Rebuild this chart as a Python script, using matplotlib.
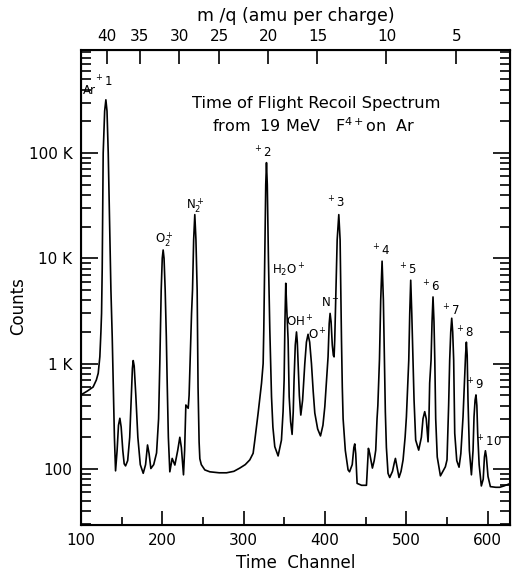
import matplotlib
matplotlib.use("Agg")
import matplotlib.pyplot as plt
from matplotlib.ticker import FixedLocator, LogLocator, NullFormatter, FixedFormatter

# ---- data ----
channel = [100, 108, 115, 119, 121.3, 123.3, 124.6, 125.4, 126.2, 127.4, 129.2, 130.7, 132.1, 133.6,
           135.4, 136.9, 138.5, 139.7, 141.2, 142.6, 144.5, 146.2, 147.9, 149.5, 151.5, 153.2, 154.9,
           157.5, 160, 162, 163.3, 164.3, 165.5, 167.5, 170, 173, 176.6, 179.5, 181.9, 183.8, 186,
           189.5, 193, 195.5, 197, 198.7, 200, 201.1, 202.2, 203.6, 205, 206, 207.5, 209.3, 212.2,
           215.5, 219, 221.6, 223.5, 226.1, 227.5, 229, 231.9, 233, 234.5, 236, 237.2, 238.6, 240,
           241.4, 242.9, 244, 245.3, 246.2, 248, 252.3, 258.5, 270, 279, 288, 295.3, 302, 307.6,
           311.7, 313.8, 316, 317.8, 320, 322, 324, 324.8, 326, 327.2, 328.1, 329.1, 330.5, 332.2,
           334.3, 336, 338.3, 342.4, 346.5, 348.5, 349.8, 350.8, 351.8, 352.9, 354.7, 356, 357.8,
           359.6, 361, 362, 363.5, 365, 366, 367, 368.5, 370.3, 372.5, 375.2, 377.2, 379.2, 381.2,
           383.4, 385.5, 387.5, 391, 394.5, 397.5, 399.8, 402, 403.8, 405.2, 406.3, 407.5, 409,
           410.3, 411.2, 412, 413.5, 415, 417, 418.6, 420.3, 421.3, 422.3, 425, 428.4, 430.2, 433.5,
           435.5, 436.6, 437.8, 439.5, 445, 451, 452.3, 453.4, 455, 458.3, 460.5, 462.4, 464, 465,
           467, 468.5, 470.2, 471.8, 473.1, 474.2, 475.5, 477.5, 479.6, 483, 485.3, 486.6, 488, 491,
           493.5, 496, 498.5, 500.1, 502, 503, 504.2, 505.4, 506.7, 508.2, 509.5, 511.5, 515.2,
           518.5, 520.5, 522.6, 524.5, 526.7, 527.8, 528.7, 530.4, 531.6, 532.8, 534, 535, 536.1,
           538, 541.9, 545, 548, 550, 552, 553.3, 554.6, 555.8, 557, 558.2, 559.5, 562, 564.8, 567,
           569.7, 571.5, 572.8, 573.8, 574.8, 575.8, 577.5, 580, 582, 583.2, 584.5, 585.6, 586.7,
           587.7, 589.5, 592.2, 594.5, 596, 597.2, 598.4, 600.4, 603.3, 610, 614.7, 620, 628]
counts = [505, 550, 600, 700, 811, 1165, 2000, 3000, 8000, 100000, 250000, 320000, 250000, 100000,
          20000, 5000, 1800, 700, 200, 96, 150, 260, 303, 250, 150, 112, 107,
          120, 200, 500, 900, 1070, 950, 500, 200, 110, 91, 110, 169, 140, 101,
          110, 142, 300, 1000, 5000, 10000, 12000, 10000, 5000, 1800, 700, 200, 94, 126,
          109, 150, 200, 160, 88, 150, 405, 377, 500, 1200, 3000, 5000, 15000, 26000,
          15000, 5000, 600, 180, 125, 110, 98, 94, 92, 92, 95, 102, 110, 122,
          141, 188, 260, 337, 480, 650, 1000, 2100, 10000, 50000, 81000, 50000, 10000, 2100,
          485, 250, 163, 133, 188, 350, 700, 2500, 5800, 3500, 1680, 485, 280,
          213, 350, 700, 1500, 2000, 1600, 1000, 500, 325, 450, 1000, 1600, 1900, 1600,
          1000, 550, 340, 240, 206, 260, 390, 700, 1160, 2400, 3000, 2500, 1500,
          1200, 1160, 1680, 5000, 15000, 26000, 15000, 1680, 600, 300, 150, 98, 94, 110,
          160, 173, 140, 73, 70, 70, 110, 157, 140, 102, 120, 151, 300, 400,
          1100, 4000, 9400, 4000, 1100, 350, 160, 91, 83, 95, 115, 126, 110, 83,
          95, 122, 200, 313, 700, 1080, 3000, 6200, 3000, 1080, 450, 188, 151,
          200, 300, 350, 300, 181, 300, 655, 1080, 2500, 4300, 2500, 1080, 300,
          130, 86, 95, 105, 122, 400, 1080, 2000, 2700, 2000, 1080, 218, 120, 104, 140,
          313, 700, 1200, 1600, 1200, 450, 150, 88, 150, 313, 450, 505, 400,
          218, 110, 69, 80, 130, 149, 130, 85, 68, 67, 67, 69, 73]

x_ticks = [100, 200, 300, 400, 500, 600]
x_tick_labels = ["100", "200", "300", "400", "500", "600"]
y_ticks = [100, 1000, 10000, 100000]
y_tick_labels = ["100", "1 K", "10 K", "100 K"]
mq_channels = [132.3, 172.5, 221.1, 270.3, 330.1, 390.8, 475.6, 561.3]
mq_labels = ["40", "35", "30", "25", "20", "15", "10", "5"]

peak_labels = ["O$_2^+$", "N$_2^+$", "$^+$2", "H$_2$O$^+$", "OH$^+$", "O$^+$", "N$^+$", "$^+$3",
               "$^+$4", "$^+$5", "$^+$6", "$^+$7", "$^+$8", "$^+$9", "$^+$10"]
peak_label_x = [203, 241, 323.6, 355.5, 369, 391, 406, 413, 468.5, 501.7, 530, 554.5, 571.7, 584, 601]
peak_label_y = [15000, 31500, 100000, 7760, 2490, 1870, 3780, 33600, 11700, 7760, 5350, 3160, 1950, 628, 180]

# ---- figure ----
fig = plt.figure(figsize=(5.12, 5.71), dpi=100)
ax = fig.add_axes([0.158, 0.0806, 0.839, 0.8318])
ax.plot(channel, counts, color="black", lw=1.2)
ax.set_yscale("log")
ax.set_xlim(100, 628)
ax.set_ylim(29.4, 9.5e5)

ax.xaxis.set_major_locator(FixedLocator(x_ticks))
ax.xaxis.set_major_formatter(FixedFormatter(x_tick_labels))
ax.xaxis.set_minor_locator(FixedLocator([150, 250, 350, 450, 550]))
ax.yaxis.set_major_locator(FixedLocator(y_ticks))
ax.yaxis.set_major_formatter(FixedFormatter(y_tick_labels))
ax.yaxis.set_minor_locator(LogLocator(base=10, subs=[2, 3, 4, 5, 6, 7, 8, 9], numticks=20))
ax.yaxis.set_minor_formatter(NullFormatter())

ax.tick_params(axis="x", which="major", direction="in", length=10, width=1.2, labelsize=11, pad=6, top=False)
ax.tick_params(axis="x", which="minor", direction="in", length=6, width=1.2, top=False)
ax.tick_params(axis="y", which="major", direction="in", length=12, width=1.2, labelsize=11, right=True, pad=6)
ax.tick_params(axis="y", which="minor", direction="in", length=7, width=1.2, right=True)
for s in ax.spines.values():
    s.set_linewidth(1.5)

ax.set_xlabel("Time  Channel", fontsize=12, labelpad=4)
ax.set_ylabel("Counts", fontsize=12)
ax.yaxis.set_label_coords(-0.125, 0.46)

axt = ax.twiny()
axt.set_xlim(ax.get_xlim())
axt.xaxis.set_major_locator(FixedLocator(mq_channels))
axt.xaxis.set_major_formatter(FixedFormatter(mq_labels))
axt.xaxis.set_minor_locator(FixedLocator([]))
axt.tick_params(axis="x", direction="in", length=10, width=1.2, labelsize=11, pad=4)
axt.set_xlabel("m /q (amu per charge)", fontsize=12.5, labelpad=6)

# peak labels
ax.text(110.4, 390000, "Ar", fontsize=8.5, ha="center", va="center")
ax.text(128.3, 470000, "$^+$1", fontsize=8.5, ha="center", va="center")
for lab, lx, ly in zip(peak_labels, peak_label_x, peak_label_y):
    ax.text(lx, ly, lab, fontsize=8.5, ha="center", va="center")

ax.text(0.549, 0.888, "Time of Flight Recoil Spectrum", transform=ax.transAxes,
        fontsize=11.7, ha="center", va="center")
ax.text(0.542, 0.840, "from  19 MeV   F$^{4+}$on  Ar", transform=ax.transAxes,
        fontsize=11.5, ha="center", va="center")

fig.savefig("out.png", dpi=100)
